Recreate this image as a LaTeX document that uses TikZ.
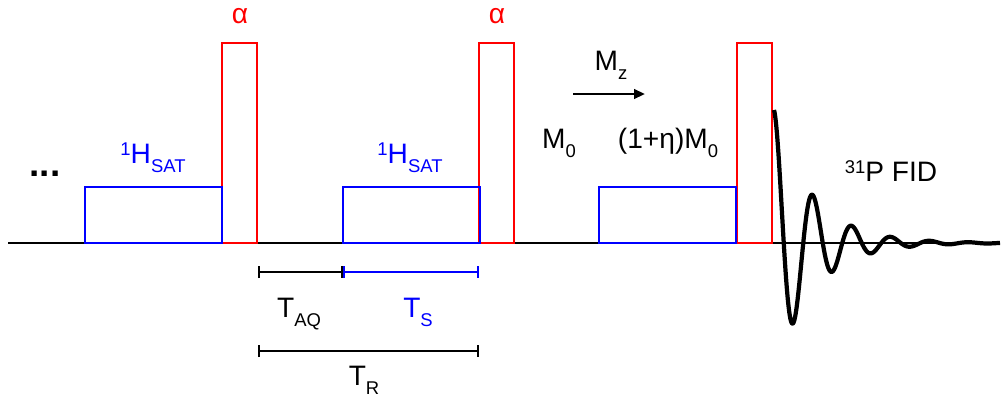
\documentclass[tikz,border=0pt]{standalone}
\usepackage{fontspec}
\setmainfont{Liberation Sans}
\usetikzlibrary{arrows.meta, positioning}
\definecolor{pulsered}{RGB}{255,0,0}
\definecolor{satblue}{RGB}{0,0,255}
\newcommand{\lowtxt}[1]{\raisebox{-5.5pt}{\fontsize{10.5}{10.5}\selectfont #1}}
\newcommand{\hightxt}[1]{\raisebox{4.5pt}{\fontsize{10.5}{10.5}\selectfont #1}}
\tikzset{
    % Pulses
    satbox/.style={rectangle, draw=satblue, line width=1.4pt, inner sep=0pt, outer sep=0pt,
                minimum width=2.74cm, minimum height=1.12cm, anchor=south west},
    flipbox/.style={rectangle, draw=pulsered, line width=1.4pt, inner sep=0pt, outer sep=0pt,
                minimum width=0.7cm, minimum height=4cm, anchor=south west},
    % Labels
    lbl/.style={font=\fontsize{16}{19}\selectfont, anchor=base, inner sep=0pt},
    % Lines
    axis/.style={line width=1.3pt, black},
    span/.style={{Bar[width=2.4mm]}-{Bar[width=2.4mm]}, line width=1.3pt},
    fid/.style={line width=2.4pt, black, line join=round},
    marrow/.style={-{Triangle[length=2.2mm, width=1.9mm]}, line width=1.4pt},
}
\begin{document}
\begin{tikzpicture}[x=0.02cm, y=-0.02cm]
\useasboundingbox (0,0) rectangle (1004,410);

% Time axis
\coordinate (t0) at (8,243);
\coordinate (t1) at (1000,243);
\draw[axis] (t0) -- (t1);

% Flip-angle pulses
\node[flipbox] (p1) at (222,243) {};
\node[flipbox] (p2) at (479,243) {};
\node[flipbox] (p3) at (737,243) {};

% Saturation blocks
\node[satbox] (s1) at (85,243) {};
\node[satbox] (s2) at (343,243) {};
\node[satbox] (s3) at (599,243) {};

% FID
\draw[fid] plot[domain=0:226, samples=400, smooth]
    ({774+\x}, {243-133*exp(-\x/38)*cos(\x/39*360)});

% Timing spans
\coordinate (aqa) at (258,272);
\coordinate (aqb) at (343,272);
\coordinate (tsb) at (479,272);
\coordinate (tra) at (258,351);
\coordinate (trb) at (479,351);
\draw[span] (aqa) -- (aqb);
\draw[span, satblue] (aqb) -- (tsb);
\draw[span] (tra) -- (trb);

% Magnetisation arrow
\coordinate (ma) at (573,94);
\coordinate (mb) at (645,94);
\draw[marrow] (ma) -- (mb);

% Labels
\node[lbl, font=\fontsize{21}{24}\selectfont\bfseries] (dots) at (45,176) {...};
\node[lbl, text=pulsered] (a1) at (240,23) {α};
\node[lbl, text=pulsered] (a2) at (497,23) {α};
\node[lbl, text=satblue] (h1) at (153,163) {\hightxt{1}H\lowtxt{SAT}};
\node[lbl, text=satblue] (h2) at (410,163) {\hightxt{1}H\lowtxt{SAT}};
\node[lbl] (mz) at (611,70) {M\lowtxt{z}};
\node[lbl] (m0) at (559,148) {M\lowtxt{0}};
\node[lbl] (m1) at (668,148) {(1+η)M\lowtxt{0}};
\node[lbl] (pfid) at (891,181) {\hightxt{31}P FID};
\node[lbl] (taq) at (299,317) {T\lowtxt{AQ}};
\node[lbl, text=satblue] (ts) at (418,317) {T\lowtxt{S}};
\node[lbl] (tr) at (364,385) {T\lowtxt{R}};
\end{tikzpicture}
\end{document}
